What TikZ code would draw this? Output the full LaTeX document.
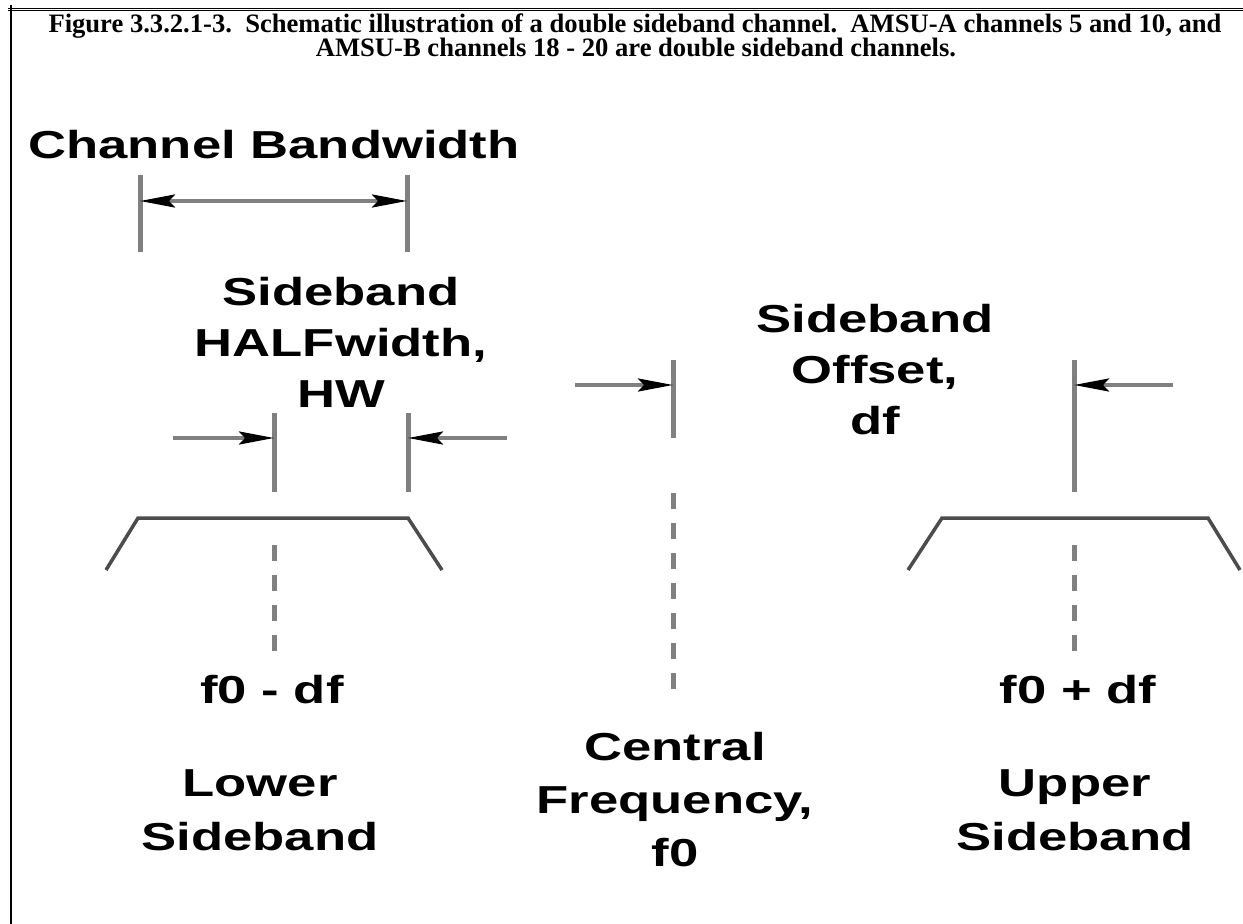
\documentclass[tikz,border=0pt]{standalone}
\usepackage{fontspec}
\setmainfont{Liberation Serif}
\newfontfamily\diagfont{Liberation Sans}
\usetikzlibrary{arrows.meta}

\begin{document}
\begin{tikzpicture}[
  x=1pt,y=-1pt,
  >={Stealth[black,length=35pt,width=13pt,inset=6pt]},
  bar/.style={draw=gray,line width=5pt},
  guide/.style={draw=gray,line width=5pt,dash pattern=on 16pt off 14pt},
  head/.style={->,draw=gray,line width=3.5pt},
  span/.style={<->,draw=gray,line width=3.5pt},
  band/.style={draw=black!70,line width=3.5pt,line join=miter},
  lbl/.style={font=\diagfont\bfseries\fontsize{39}{51}\selectfont,
    align=center,anchor=base,inner sep=0pt,xscale=1.35},
  lbltall/.style={lbl,font=\diagfont\bfseries\fontsize{39}{54}\selectfont},
  captext/.style={font=\bfseries\fontsize{26.6}{22}\selectfont,anchor=base,inner sep=0pt},
]
  \fill[white] (0,0) rectangle (1243,924);
  \useasboundingbox (0,0) rectangle (1243,924);
  % ---------------- frame and caption ----------------
  \draw[line width=1pt] (8,8) -- (1243,8);
  \draw[line width=1pt] (8,10.5) -- (1243,10.5);
  \draw[line width=1.5pt] (11,5) -- (11,924);
  \node[captext] (cap1) at (635,32)
    {Figure 3.3.2.1-3.\ \ Schematic illustration of a double sideband channel.\ \ AMSU-A channels 5 and 10, and};
  \node[captext] (cap2) at (636,56) {AMSU-B channels 18 - 20 are double sideband channels.};

  % ---------------- channel bandwidth ----------------
  \node[lbl] (chanbw) at (274,158) {Channel Bandwidth};
  \coordinate (bwLt) at (140,175); \coordinate (bwLb) at (140,252);
  \coordinate (bwRt) at (407,175); \coordinate (bwRb) at (407,252);
  \coordinate (bwA) at (140,201);  \coordinate (bwB) at (407,201);
  \draw[bar] (bwLt) -- (bwLb);
  \draw[bar] (bwRt) -- (bwRb);
  \draw[span] (bwA) -- (bwB);

  % ---------------- halfwidth ----------------
  % base anchor sits on the last line
  \node[lbl] (halfw) at (341,407) {Sideband\\HALFwidth,\\HW};
  \coordinate (hwLt) at (274,413); \coordinate (hwLb) at (274,492);
  \coordinate (hwRt) at (408,413); \coordinate (hwRb) at (408,492);
  \coordinate (hwLa) at (173,438); \coordinate (hwL) at (274,438);
  \coordinate (hwRa) at (507,438); \coordinate (hwR) at (408,438);
  \draw[bar] (hwLt) -- (hwLb);
  \draw[bar] (hwRt) -- (hwRb);
  \draw[head] (hwLa) -- (hwL);
  \draw[head] (hwRa) -- (hwR);

  % ---------------- lower sideband ----------------
  \coordinate (lo1) at (106,570); \coordinate (lo2) at (138,518);
  \coordinate (lo3) at (408,518); \coordinate (lo4) at (442,570);
  \draw[band] (lo1) -- (lo2) -- (lo3) -- (lo4);
  \coordinate (loT) at (274,545); \coordinate (loB) at (274,652);
  \draw[guide] (loT) -- (loB);
  \node[lbl] (lowf) at (272,703) {f0 - df};
  \node[lbltall] (lowsb) at (260,850) {Lower\\Sideband};

  % ---------------- central frequency ----------------
  \coordinate (cfT) at (673,360); \coordinate (cfB) at (673,438);
  \coordinate (cfA) at (575,385); \coordinate (cf) at (673,385);
  \draw[bar] (cfT) -- (cfB);
  \draw[head] (cfA) -- (cf);
  \coordinate (cgT) at (673,493); \coordinate (cgB) at (673,690);
  \draw[guide] (cgT) -- (cgB);
  \node[lbl,font=\diagfont\bfseries\fontsize{39}{53}\selectfont] (central) at (675,866)
    {Central\\Frequency,\\f0};

  % ---------------- offset / upper sideband ----------------
  \node[lbl] (offset) at (875,434) {Sideband\\Offset,\\df};
  \coordinate (ofT) at (1074,360); \coordinate (ofB) at (1074,492);
  \coordinate (ofA) at (1173,385); \coordinate (of) at (1074,385);
  \draw[bar] (ofT) -- (ofB);
  \draw[head] (ofA) -- (of);
  \coordinate (up1) at (908,570); \coordinate (up2) at (942,518);
  \coordinate (up3) at (1208,518); \coordinate (up4) at (1240,570);
  \draw[band] (up1) -- (up2) -- (up3) -- (up4);
  \coordinate (upT) at (1074,545); \coordinate (upB) at (1074,652);
  \draw[guide] (upT) -- (upB);
  \node[lbl] (upf) at (1078,703) {f0 + df};
  \node[lbltall] (upsb) at (1075,850) {Upper\\Sideband};
\end{tikzpicture}
\end{document}
